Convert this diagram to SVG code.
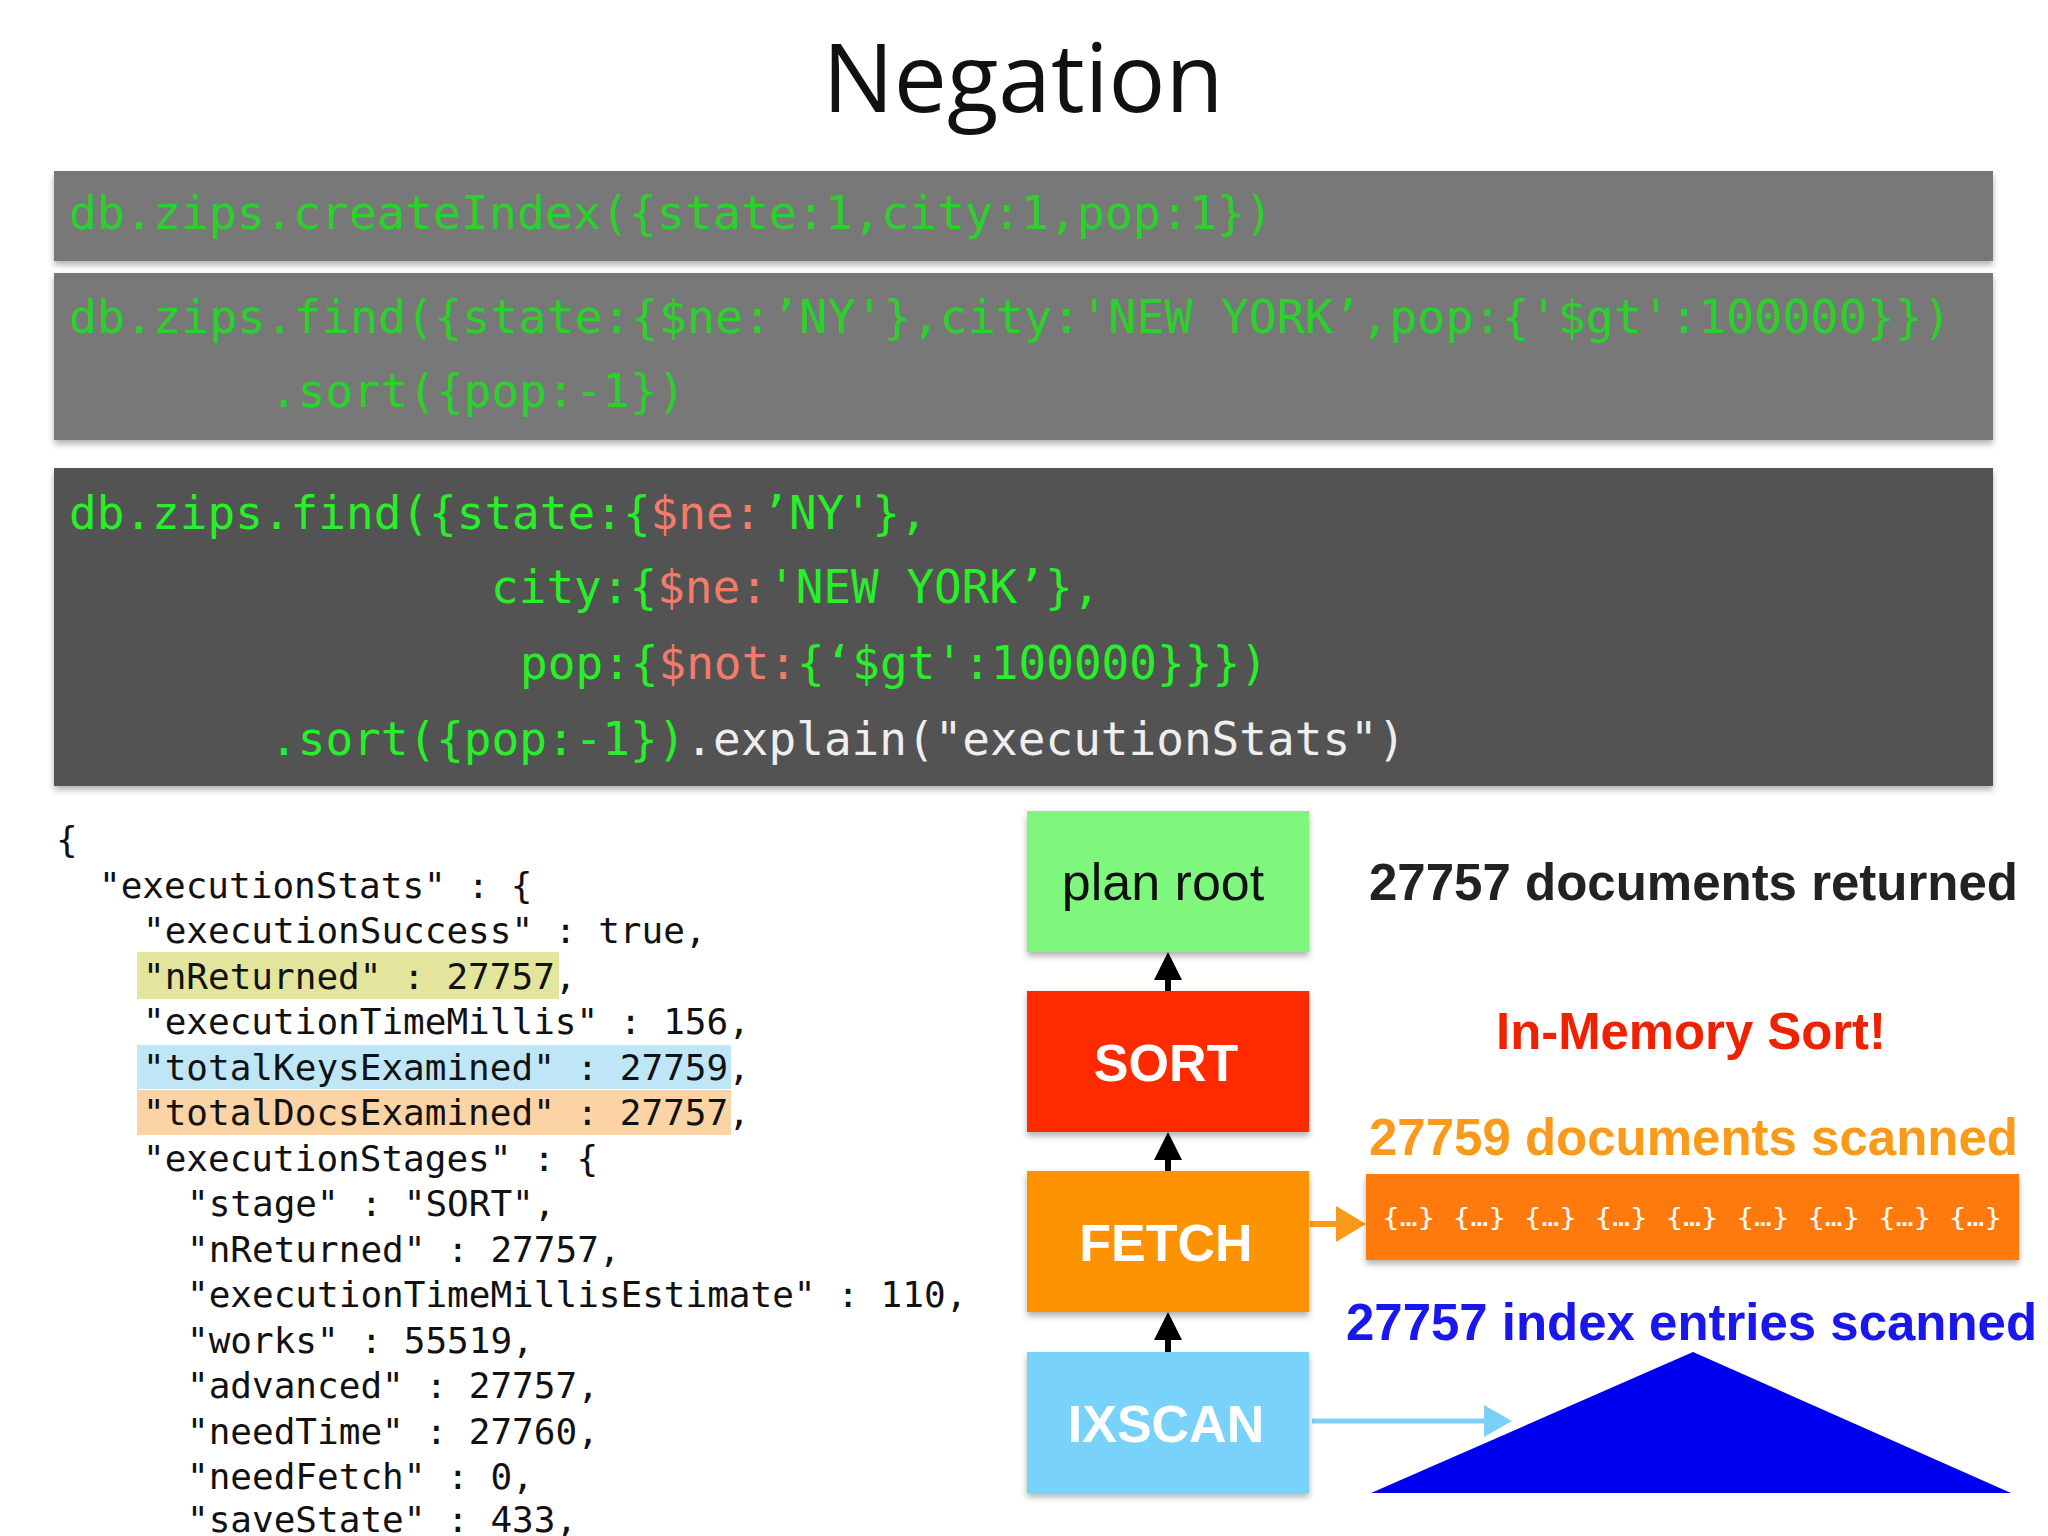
<svg xmlns="http://www.w3.org/2000/svg" width="2048" height="1536" viewBox="0 0 2048 1536">
<defs>
<style>
.code{font-family:"DejaVu Sans Mono","Liberation Mono",monospace;font-size:46px}
.json{font-family:"DejaVu Sans Mono","Liberation Mono",monospace;font-size:36px;fill:#111}
.g1{fill:#2bd12b}.g2{fill:#28f028}.r{fill:#f47a6a}.w{fill:#eeeeee}
.lbl{font-family:"Liberation Sans",Arial,sans-serif;font-weight:bold;font-size:52px;text-anchor:middle}
.note{font-family:"Liberation Sans",Arial,sans-serif;font-weight:bold;font-size:52px}
</style>
<filter id="sh" x="-5%" y="-5%" width="110%" height="120%"><feDropShadow dx="0" dy="4" stdDeviation="3" flood-color="#000" flood-opacity="0.3"/></filter>
</defs>
<rect width="2048" height="1536" fill="#fff"/>
<text x="1023" y="112" font-family="Open Sans,sans-serif" font-size="96" text-anchor="middle" fill="#111" textLength="401" lengthAdjust="spacingAndGlyphs">Negation</text>

<g id="box1"><rect x="54" y="171" width="1939" height="90" fill="#787878" filter="url(#sh)"/>
<text x="69" y="229" class="code g1" textLength="1204" lengthAdjust="spacingAndGlyphs">db.zips.createIndex({state:1,city:1,pop:1})</text></g>
<g id="box2"><rect x="54" y="273" width="1939" height="167" fill="#787878" filter="url(#sh)"/>
<text x="69" y="333" class="code g1" textLength="1882" lengthAdjust="spacingAndGlyphs">db.zips.find({state:{$ne:’NY'},city:'NEW YORK’,pop:{'$gt':100000}})</text>
<text x="270" y="407" class="code g1">.sort({pop:-1})</text></g>
<g id="box3"><rect x="54" y="468" width="1939" height="318" fill="#535353" filter="url(#sh)"/>
<text x="69" y="529" class="code g2">db.zips.find({state:{<tspan class="r">$ne:</tspan>’NY'},</text>
<text x="491" y="603" class="code g2">city:{<tspan class="r">$ne:</tspan>'NEW YORK’},</text>
<text x="520" y="679" class="code g2">pop:{<tspan class="r">$not:</tspan>{‘$gt':100000}}})</text>
<text x="270" y="755" class="code g2">.sort({pop:-1})<tspan class="w">.explain("executionStats")</tspan></text></g>

<g id="json">
<rect x="137" y="952" width="422" height="47" fill="#e4e59c"/>
<rect x="137" y="1045" width="594" height="44" fill="#bfe6f6"/>
<rect x="137" y="1090" width="594" height="45" fill="#fcd3a4"/>
<text class="json" x="56" y="852">{</text>
<text class="json" x="99" y="898">"executionStats" : {</text>
<text class="json" x="143" y="943">"executionSuccess" : true,</text>
<text class="json" x="143" y="989">"nReturned" : 27757,</text>
<text class="json" x="143" y="1034">"executionTimeMillis" : 156,</text>
<text class="json" x="143" y="1080">"totalKeysExamined" : 27759,</text>
<text class="json" x="143" y="1125">"totalDocsExamined" : 27757,</text>
<text class="json" x="143" y="1171">"executionStages" : {</text>
<text class="json" x="187" y="1216">"stage" : "SORT",</text>
<text class="json" x="187" y="1262">"nReturned" : 27757,</text>
<text class="json" x="187" y="1307">"executionTimeMillisEstimate" : 110,</text>
<text class="json" x="187" y="1353">"works" : 55519,</text>
<text class="json" x="187" y="1398">"advanced" : 27757,</text>
<text class="json" x="187" y="1444">"needTime" : 27760,</text>
<text class="json" x="187" y="1489">"needFetch" : 0,</text>
<text class="json" x="187" y="1532">"saveState" : 433,</text>
</g>

<g id="connectors" stroke-width="6">
<line x1="1168" y1="991" x2="1168" y2="968" stroke="#000"/>
<path d="M1154,980 L1168,952 L1182,980 z" fill="#000"/>
<line x1="1168" y1="1171" x2="1168" y2="1148" stroke="#000"/>
<path d="M1154,1160 L1168,1132 L1182,1160 z" fill="#000"/>
<line x1="1168" y1="1352" x2="1168" y2="1328" stroke="#000"/>
<path d="M1154,1340 L1168,1312 L1182,1340 z" fill="#000"/>
<line x1="1310" y1="1224" x2="1340" y2="1224" stroke="#f99a1a"/>
<path d="M1336,1206 L1366,1224 L1336,1242 z" fill="#f99a1a"/>
<line x1="1312" y1="1421" x2="1490" y2="1421" stroke="#7cd0f5" stroke-width="5"/>
<path d="M1484,1405 L1512,1421 L1484,1437 z" fill="#7cd0f5"/>
</g>

<g id="planroot"><rect x="1027" y="811" width="282" height="141" fill="#7ef77b" filter="url(#sh)"/>
<text x="1163" y="900" class="lbl" style="font-weight:normal" fill="#111">plan root</text></g>
<g id="sort"><rect x="1027" y="991" width="282" height="141" fill="#ff2a00" filter="url(#sh)"/>
<text x="1166" y="1081" class="lbl" fill="#fff">SORT</text></g>
<g id="fetch"><rect x="1027" y="1171" width="282" height="141" fill="#fd9303" filter="url(#sh)"/>
<text x="1166" y="1261" class="lbl" fill="#fff">FETCH</text></g>
<g id="ixscan"><rect x="1027" y="1352" width="282" height="141" fill="#79d2fa" filter="url(#sh)"/>
<text x="1166" y="1442" class="lbl" fill="#fff">IXSCAN</text></g>

<g id="notes">
<text x="1369" y="900" class="note" fill="#222" textLength="649" lengthAdjust="spacingAndGlyphs">27757 documents returned</text>
<text x="1691" y="1049" class="note" fill="#ee2200" text-anchor="middle" textLength="390" lengthAdjust="spacingAndGlyphs">In-Memory Sort!</text>
<text x="1369" y="1155" class="note" fill="#f99a1a" textLength="649" lengthAdjust="spacingAndGlyphs">27759 documents scanned</text>
<g id="docs"><rect x="1366" y="1174" width="653" height="86" fill="#fe7a08" filter="url(#sh)"/>
<text x="1692" y="1226" font-family="DejaVu Sans Mono,monospace" font-size="24" fill="#fff" text-anchor="middle" textLength="620" lengthAdjust="spacingAndGlyphs">{…} {…} {…} {…} {…} {…} {…} {…} {…}</text></g>
<text x="1346" y="1340" class="note" fill="#1a17ee" textLength="691" lengthAdjust="spacingAndGlyphs">27757 index entries scanned</text>
<polygon id="index" points="1693,1352 2011,1493 1371,1493" fill="#0000f0"/>
</g>
</svg>
